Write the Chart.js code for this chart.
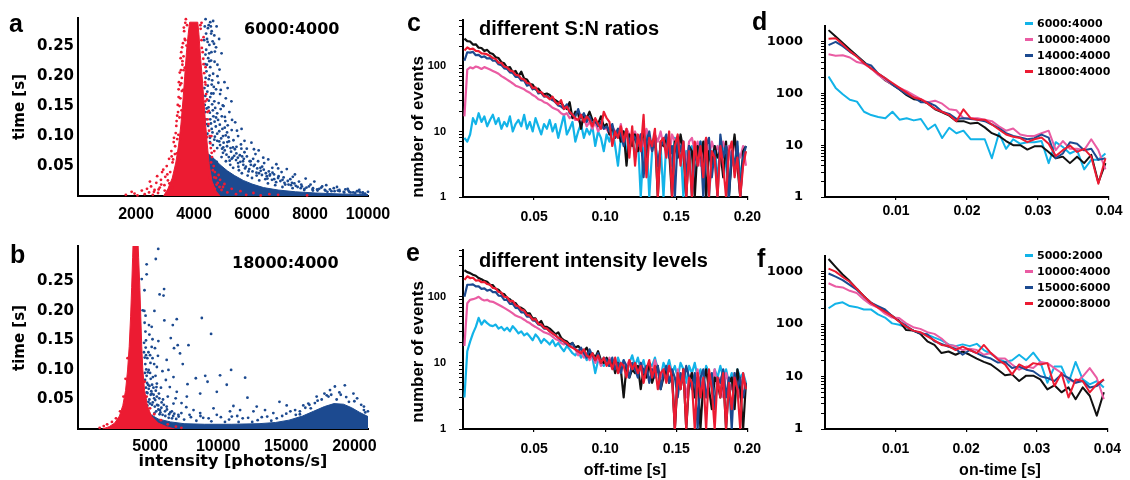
<!DOCTYPE html>
<html lang="en">
<head>
    <meta charset="UTF-8">
    <title>On/off-time statistics</title>
    <script src="https://cdn.jsdelivr.net/npm/chart.js"></script>
    <style>
        html, body { margin: 0; padding: 0; background: #fff; }
        body { position: relative; width: 1130px; height: 480px; overflow: hidden; }
        canvas { position: absolute; }
        .txt { position: absolute; white-space: nowrap; line-height: 1; color: #000; font-weight: bold; }
        .letter { font-family: "Liberation Sans", Arial, sans-serif; font-size: 25px; }
        .wide { font-family: "DejaVu Sans", sans-serif; }
        .arial { font-family: "Liberation Sans", Arial, sans-serif; }
        .vert { transform: translate(-50%, -50%) rotate(-90deg); }
        .centered { transform: translateX(-50%); }
        .legend { position: absolute; font-family: "DejaVu Sans", sans-serif; font-weight: bold; font-size: 11px; line-height: 1; }
        .legend div { display: flex; align-items: center; height: 16px; }
        .legend .mark { display: inline-block; width: 8px; height: 3px; margin-right: 4px; }
    </style>
</head>
<body>
    <canvas id="chartA" width="400" height="230" style="left:0;top:0"></canvas>
    <canvas id="chartB" width="400" height="250" style="left:0;top:230px"></canvas>
    <canvas id="chartC" width="370" height="230" style="left:400px;top:0"></canvas>
    <canvas id="chartE" width="370" height="250" style="left:400px;top:230px"></canvas>
    <canvas id="chartD" width="385" height="230" style="left:745px;top:0"></canvas>
    <canvas id="chartF" width="385" height="250" style="left:745px;top:230px"></canvas>

    <!-- panel letters -->
    <div class="txt letter" style="left:9px;top:11px">a</div>
    <div class="txt letter" style="left:10px;top:242px">b</div>
    <div class="txt letter" style="left:407px;top:10px">c</div>
    <div class="txt letter" style="left:406px;top:240px">e</div>
    <div class="txt letter" style="left:752px;top:9px">d</div>
    <div class="txt letter" style="left:757px;top:246px">f</div>

    <!-- titles inside panels -->
    <div class="txt wide" style="left:244px;top:21px;font-size:16px">6000:4000</div>
    <div class="txt wide" style="left:232px;top:255px;font-size:16px">18000:4000</div>
    <div class="txt arial" style="left:479px;top:18px;font-size:20px">different S:N ratios</div>
    <div class="txt arial" style="left:479px;top:250px;font-size:20px">different intensity levels</div>

    <!-- axis titles -->
    <div class="txt wide vert" style="left:19px;top:107px;font-size:15px">time [s]</div>
    <div class="txt wide vert" style="left:19px;top:338px;font-size:15px">time [s]</div>
    <div class="txt arial vert" style="left:417px;top:127px;font-size:17px">number of events</div>
    <div class="txt arial vert" style="left:417px;top:352px;font-size:17px">number of events</div>
    <div class="txt wide centered" style="left:233px;top:453px;font-size:16px">intensity [photons/s]</div>
    <div class="txt arial centered" style="left:625px;top:462px;font-size:16px">off-time [s]</div>
    <div class="txt arial centered" style="left:1000px;top:462px;font-size:16px">on-time [s]</div>

    <div class="legend" id="legendD" style="left:1025px;top:15px"></div>
    <div class="legend" id="legendF" style="left:1025px;top:247px"></div>

    <script>
        // ---- scatter data: intensity [photons/s] vs time [s] ----
        // dense cores are given as outlines, sparse events as single points
        const redCoreA = [[2950,0],[3100,0.012],[3250,0.03],[3370,0.055],[3470,0.085],[3550,0.12],[3620,0.16],[3680,0.2],[3740,0.24],[3800,0.27],[3850,0.29],
            [4130,0.29],[4170,0.27],[4220,0.235],[4280,0.2],[4340,0.16],[4400,0.12],[4460,0.085],[4530,0.05],[4620,0.025],[4760,0.008],[4900,0]];
        const redDotsA = [[1650,0.002],[1850,0.007],[1950,0.004],[2050,0.001],[2200,0.009],[2300,0.003],[2380,0.012],[2450,0.006],[2520,0.016],[2580,0.002],
            [2640,0.01],[2700,0.022],[2730,0.033],[2760,0.005],[2820,0.014],[2860,0.027],[2900,0.04],[2940,0.044],[2980,0.018],[3010,0.032],
            [3060,0.05],[3100,0.026],[3140,0.062],[3180,0.04],[3220,0.075],[3260,0.056],[3300,0.09],[3340,0.07],[3370,0.105],[3400,0.125],
            [3420,0.095],[3450,0.14],[3470,0.165],[3500,0.15],[3520,0.185],[3550,0.21],[3560,0.24],[3580,0.175],[3600,0.225],[3620,0.255],
            [3640,0.21],[3660,0.275],[3700,0.26],[3720,0.295],[3760,0.285],[3540,0.23],[3480,0.19],
            [3390,0.043],[3280,0.061],[3410,0.071],[3350,0.083],[3460,0.102],[3390,0.117],[3500,0.131],[3440,0.152],[3530,0.163],[3470,0.178],
            [3580,0.197],[3510,0.206],[3600,0.219],[3640,0.233],[3590,0.248],[3680,0.262],[3650,0.281],[3700,0.289],[3560,0.188],[3420,0.134],
            [3310,0.097],[3230,0.066],[3150,0.021],[3080,0.036],[2990,0.009],[2870,0.019],[2780,0.011],[2620,0.007],[2480,0.024],[3360,0.028],
            [3250,0.014],[3470,0.061],[3520,0.095],[3570,0.143],[3620,0.177],[3680,0.214],[3740,0.251],
            [4220,0.285],[4260,0.26],[4300,0.24],[4330,0.22],[4380,0.19],[4420,0.17],[4460,0.14],[4500,0.12],[4540,0.1],[4580,0.08],
            [4620,0.065],[4680,0.05],[4720,0.04],[4760,0.03],[4820,0.022],[4880,0.015],[4950,0.01],[5050,0.02],[5150,0.006],[5300,0.012],
            [5450,0.003],[5600,0.008],[5800,0.002],[6050,0.005],[6300,0.001],[6600,0.003],[6900,0.002],[7900,0.001],[4700,0.075],[4850,0.035],[4600,0.1],
            [4230,0.279],[4270,0.247],[4320,0.229],[4350,0.205],[4400,0.186],[4390,0.158],[4450,0.161],[4470,0.128],[4520,0.109],[4510,0.142],
            [4560,0.088],[4610,0.072],[4590,0.056],[4650,0.043],[4700,0.031],[4780,0.019],[4720,0.012],[4900,0.027],[5000,0.015],[4550,0.03],
            [4620,0.018],[4440,0.098],[4400,0.215],[4260,0.289],[4330,0.265]];
        const blueCoreA = [[4350,0],[4380,0.045],[4500,0.07],[4700,0.062],[4900,0.052],[5150,0.042],[5400,0.034],[5700,0.026],[6000,0.02],[6400,0.014],
            [6900,0.01],[7500,0.007],[8200,0.005],[9000,0.0035],[10000,0.0025],[10000,0]];
        const blueDotsA = [[4400,0.295],[4560,0.29],[4660,0.292],[4480,0.28],[4610,0.275],[4700,0.268],[4450,0.262],[4530,0.252],[4760,0.248],[4950,0.238],
            [4420,0.244],[4600,0.24],[4490,0.23],[4710,0.224],[4560,0.215],[4430,0.208],[4660,0.204],[4810,0.2],[4510,0.195],[5160,0.18],
            [4610,0.186],[4760,0.178],[4460,0.174],[4900,0.17],[4560,0.165],[4700,0.158],[4850,0.155],[5020,0.15],[4500,0.148],[4650,0.143],
            [4800,0.138],[4960,0.133],[5220,0.14],[4560,0.128],[4710,0.124],[4890,0.119],[5060,0.114],[4610,0.112],[5300,0.11],[4800,0.104],
            [5000,0.1],[5520,0.1],[4700,0.094],[5150,0.09],[5360,0.093],[4900,0.085],[5620,0.086],[5260,0.08],[5060,0.076],[5820,0.079],
            [5460,0.071],[6120,0.07],[5660,0.066],[5300,0.062],[5920,0.058],[6420,0.055],[5520,0.055],[6060,0.05],[6700,0.047],[5760,0.046],
            [6300,0.042],[7020,0.04],[6620,0.036],[6900,0.03],[7320,0.028],[7620,0.024],[8020,0.019],[8420,0.016],[8820,0.013],[9220,0.011],
            [9620,0.008],[6160,0.034],[6460,0.028],[7120,0.022],[7720,0.016],[8320,0.012],[9020,0.008],[9820,0.006],[4350,0.26],[4380,0.22],
            [4360,0.18],[4390,0.14],[4420,0.1],[4950,0.065],[5100,0.058],[5250,0.052],[5350,0.047],[5550,0.043],[5650,0.038],[5850,0.034],
            [6000,0.03],[6250,0.026],[6550,0.021],[6800,0.018],[7050,0.015],[7400,0.013],[7800,0.01],[8100,0.009],[8600,0.007],[9400,0.006],
            [4800,0.08],[4650,0.085],[5000,0.072],[5200,0.065],[5450,0.06],[5700,0.052],[4550,0.09],[4450,0.12],
            [4620,0.062],[4780,0.057],[4870,0.091],[5010,0.081],[5120,0.069],[5190,0.098],[5330,0.064],[5410,0.078],[5530,0.049],[5580,0.068],
            [5690,0.058],[5740,0.073],[5880,0.041],[5960,0.052],[6040,0.062],[6180,0.046],[6240,0.038],[6350,0.049],[6510,0.033],[6580,0.041],
            [6690,0.027],[6760,0.036],[6980,0.025],[7090,0.031],[7260,0.019],[7380,0.022],[7510,0.017],[7680,0.013],[7880,0.014],[8090,0.011],
            [8260,0.009],[8510,0.01],[8740,0.008],[8960,0.009],[9180,0.006],[9350,0.007],[9560,0.005],[9730,0.006],[9900,0.004],[5080,0.125],
            [4980,0.112],[4760,0.131],[4670,0.171],[4840,0.189],[4530,0.225],[4690,0.254],[4580,0.283],[4880,0.211],[5050,0.19],[5290,0.158],
            [5420,0.123],[5140,0.106],[4920,0.145],[5640,0.112],[5980,0.089],[6230,0.076],[6560,0.061],[6840,0.053],[7200,0.045],[7480,0.036],
            [7850,0.029],[8150,0.024],[8560,0.018],[8930,0.015],[9300,0.012],[9700,0.01],[10000,0.007],
            [4372,0.283],[4418,0.271],[4471,0.257],[4395,0.236],[4523,0.238],[4447,0.219],[4589,0.226],[4402,0.197],[4476,0.184],[4538,0.201],
            [4627,0.193],[4389,0.167],[4511,0.159],[4598,0.171],[4683,0.182],[4436,0.146],[4545,0.139],[4626,0.153],[4731,0.147],[4412,0.128],
            [4487,0.117],[4583,0.121],[4668,0.133],[4752,0.116],[4829,0.127],[4463,0.104],[4551,0.097],[4637,0.106],[4719,0.099],[4801,0.092],
            [4592,0.271],[4507,0.285],[4643,0.258],[4721,0.241],[4373,0.152],[4362,0.118],
            [4870,0.108],[4935,0.096],[5021,0.089],[5093,0.101],[4968,0.079],[5139,0.083],[5207,0.091],[5278,0.074],[5344,0.081],[5231,0.059],
            [5387,0.067],[5466,0.082],[5512,0.064],[5597,0.057],[5633,0.079],[5718,0.062],[5789,0.049],[5824,0.066],[5906,0.045],[5952,0.058],
            [6018,0.041],[6097,0.052],[6154,0.039],[6211,0.058],[6289,0.047],[6342,0.035],[6405,0.044],[6477,0.038],[6533,0.029],[6614,0.034],
            [6708,0.039],[6765,0.028],[6831,0.023],[6917,0.033],[7052,0.027],[7146,0.019],[7233,0.025],[7345,0.018],[7461,0.021],[7573,0.015],
            [7699,0.019],[7812,0.012],[7963,0.016],[8104,0.013],[8247,0.011],[8390,0.014],[8533,0.009],[8688,0.011],[8847,0.008],[9012,0.01],
            [9164,0.007],[9325,0.009],[9491,0.006],[9658,0.008],[9816,0.005],[5065,0.132],[5163,0.118],[4991,0.151],[5097,0.163],[4923,0.177],
            [4808,0.219],[4866,0.262],[4779,0.283],[5312,0.127],[5482,0.109],[5741,0.092],[6067,0.078],[6388,0.064],[6902,0.046],[7408,0.032]];

        const redCoreB = [[1500,0],[2000,0.004],[2400,0.01],[2750,0.022],[3000,0.04],[3200,0.065],[3350,0.1],[3470,0.14],[3570,0.19],[3650,0.24],[3720,0.29],[3760,0.32],
            [4110,0.32],[4160,0.29],[4250,0.24],[4320,0.19],[4390,0.14],[4470,0.1],[4600,0.065],[4800,0.04],[5100,0.022],[5600,0.01],[6200,0.004],[6800,0]];
        const redDotsB = [[1300,0.002],[1600,0.005],[1850,0.008],[2200,0.012],[2500,0.018],[2800,0.03],[3050,0.055],[3200,0.085],[3350,0.12],
            [4600,0.08],[4750,0.055],[5000,0.035],[5300,0.025],[5800,0.015],[6300,0.008],[6900,0.004],[7300,0.002]];
        const blueCoreB = [[4500,0],[4600,0.028],[5000,0.025],[5600,0.017],[6500,0.012],[7500,0.009],[9000,0.008],[11000,0.008],[13000,0.009],[14200,0.011],
            [15200,0.015],[16200,0.022],[17000,0.03],[17800,0.038],[18500,0.043],[19200,0.042],[19800,0.036],[20400,0.028],[21000,0.021],[21000,0]];
        const blueDotsB = [[5600,0.305],[5420,0.288],[4750,0.279],[4750,0.262],[4390,0.254],[6030,0.237],[5700,0.228],[5990,0.226],[4460,0.201],[5320,0.2],
            [6050,0.184],[6960,0.186],[8800,0.188],[5120,0.173],[6670,0.176],[9480,0.161],[5610,0.149],[6520,0.154],[7030,0.142],[7820,0.142],
            [6760,0.137],[7200,0.128],[5120,0.139],[5000,0.125],[6220,0.117],[7400,0.11],[10140,0.091],[10950,0.1],[11980,0.087],[9050,0.09],
            [8360,0.086],[6720,0.088],[6350,0.1],[5500,0.105],[9220,0.08],[7750,0.076],[9900,0.063],[10630,0.075],[12150,0.053],[14500,0.046],
            [8680,0.06],[7700,0.055],[6720,0.043],[6220,0.038],[6960,0.063],[5500,0.077],[5120,0.06],[5500,0.055],[5000,0.043],[5730,0.032],
            [11120,0.039],[10870,0.03],[11610,0.032],[12590,0.03],[13440,0.032],[15650,0.032],[15030,0.04],[18570,0.072],[19300,0.074],[19930,0.06],
            [17970,0.057],[18210,0.066],[20990,0.03],[20700,0.038],[17230,0.055],[16620,0.043],[16250,0.04],[8680,0.027],[9900,0.024],[11400,0.022],
            [8190,0.032],[9660,0.035],[12830,0.038],[14050,0.027],[4700,0.15],[4800,0.12],[4650,0.11],[4900,0.1],[4750,0.09],[5050,0.085],
            [4850,0.075],[4700,0.07],[5250,0.07],[5400,0.09],[4950,0.05],[5200,0.045],[5350,0.038],[5600,0.04],[5850,0.045],[6100,0.03],
            [5450,0.03],[5700,0.025],[6400,0.025],[6700,0.022],[7100,0.021],[7500,0.016],[7900,0.024],[8400,0.014],[8900,0.019],[9500,0.013],
            [10200,0.02],[10800,0.016],[11500,0.012],[12200,0.019],[12900,0.015],[13600,0.021],[14300,0.018],[15000,0.026],[15700,0.024],[16400,0.036],
            [17100,0.044],[17600,0.05],[18100,0.055],[18700,0.05],[19400,0.054],[20000,0.047],[20500,0.041],[17800,0.06],[19000,0.058],[4600,0.18],
            [4550,0.13],[4950,0.16],[5300,0.11],[5800,0.07],[6300,0.055],[4800,0.04],[4650,0.05],[16000,0.025],[16800,0.035],[20800,0.028],
            [6600,0.03],[7300,0.027],[8000,0.02],[8700,0.022],[9300,0.018],[10500,0.012],[11000,0.021],[11800,0.018],[12500,0.012],[13200,0.02],
            [13900,0.014],[14700,0.022],[15300,0.03],[16000,0.03],[16700,0.041],[17300,0.048],[18300,0.058],[18900,0.062],[19600,0.046],[20200,0.052],
            [20700,0.032],[4620,0.095],[4700,0.125],[4660,0.165],[4580,0.2],[4750,0.062],[4900,0.068],[5050,0.058],[5150,0.075],[5300,0.052],
            [4880,0.13],[5000,0.095],[5180,0.12],[5420,0.065],[5650,0.06],[5950,0.05],
            [4560,0.146],[4610,0.121],[4680,0.138],[4630,0.083],[4720,0.101],[4780,0.078],[4840,0.096],[4690,0.054],[4810,0.061],[4870,0.046],
            [4960,0.073],[5030,0.112],[5090,0.064],[5140,0.041],[5210,0.088],[5260,0.058],[5330,0.027],[5380,0.049],[5470,0.071],[5520,0.041],
            [5610,0.033],[5680,0.052],[5760,0.028],[5830,0.036],[5920,0.024],[6010,0.041],[6120,0.022],[6240,0.033],[6370,0.019],[6490,0.028],
            [6610,0.018],[6780,0.026],[6920,0.017],[7080,0.024],[4590,0.235],[4670,0.192],[4920,0.176],[5180,0.152],[5360,0.137],[5580,0.124],
            [5910,0.098],[6160,0.083],[6450,0.071],[6880,0.052],[7310,0.044],[7660,0.037]];

        // ---- off-time histograms (bin centres in s) ----
        const offTime = [0.001,0.003,0.005,0.007,0.009,0.011,0.013,0.015,0.017,0.019,
            0.021,0.023,0.025,0.027,0.029,0.031,0.033,0.035,0.037,0.039,
            0.041,0.043,0.045,0.047,0.049,0.051,0.053,0.055,0.057,0.059,
            0.061,0.063,0.065,0.067,0.069,0.071,0.073,0.075,0.077,0.079,
            0.081,0.083,0.085,0.087,0.089,0.091,0.093,0.095,0.097,0.099,
            0.101,0.103,0.105,0.107,0.109,0.111,0.113,0.115,0.117,0.119,
            0.121,0.123,0.125,0.127,0.129,0.131,0.133,0.135,0.137,0.139,
            0.141,0.143,0.145,0.147,0.149,0.151,0.153,0.155,0.157,0.159,
            0.161,0.163,0.165,0.167,0.169,0.171,0.173,0.175,0.177,0.179,
            0.181,0.183,0.185,0.187,0.189,0.191,0.193,0.195,0.197,0.199];

        const offSnBlack = [262,240,236,212,214,190,188,170,176,158, 152,136,132,114,110,94,96,80,84,70, 82,64,62,53,52,44,45,39,37,38,
            36,32,30,28,27,24,22,28,16,20, 19,11,18,16,20,15,14,13,17,12, 13,9,12,8,11,7,10,3,9,6, 9,5,7,10,4,8,6,9,1,7,
            6,8,5,1,7,4,9,5,1,6, 5,1,6,4,7,1,5,3,6,4, 5,2,7,1,4,9,3,1,5,6];
        const offSnRed = [172,192,180,184,170,168,156,154,150,142, 132,128,112,112,98,95,85,83,73,72, 64,62,55,54,46,47,40,40,35,34,
            31,34,28,26,30,22,24,20,18,16, 15,18,14,17,15,12,16,13,11,20, 16,14,6,10,8,12,7,11,4,12, 3,9,5,18,2,8,6,11,1,7,
            8,4,10,1,6,9,3,7,1,5, 1,7,3,6,2,8,1,5,4,1, 6,3,1,5,7,2,4,1,3,5];
        const offSnBlue = [120,162,160,164,146,148,136,140,130,132, 120,120,106,103,92,90,80,78,68,68, 60,60,50,52,44,46,38,39,34,35,
            32,30,28,25,24,22,26,19,18,17, 22,16,19,14,17,13,15,12,14,11, 12,10,13,8,11,9,6,10,7,9, 8,6,9,2,7,10,5,8,3,6,
            7,9,4,6,1,8,5,7,2,6, 1,5,3,7,1,6,8,2,5,1, 9,4,6,1,5,3,7,1,4,6];
        const offSnPink = [17,88,95,92,98,95,90,96,92,88, 84,80,76,70,66,62,58,54,50,48, 46,44,41,39,36,34,31,30,28,27,
            25,23,22,21,19,18,19,16,17,15, 15,13,16,12,14,11,14,10,12,11, 11,9,12,10,8,13,7,11,9,8, 10,7,9,6,11,8,5,9,7,10,
            6,8,4,9,7,5,8,6,3,7, 8,5,7,3,6,8,4,7,5,6, 4,7,5,6,3,8,5,4,6,3];
        const offSnCyan = [8,7,9,16,13,19,14,17,12,15, 18,13,16,11,14,12,17,10,13,15, 12,18,11,14,10,16,12,9,13,11,
            15,10,13,8,12,18,9,11,14,7, 10,13,8,11,9,12,6,10,8,5, 9,7,11,6,3,8,10,5,7,9, 4,8,1,6,9,1,5,7,3,6,
            1,7,5,3,8,4,6,1,5,3, 6,2,4,7,3,5,1,4,6,2, 4,6,3,1,5,3,6,2,4,5];

        const offIntBlack = [252,236,228,216,208,192,184,174,168,152, 150,132,128,112,110,96,92,82,80,70, 68,64,56,56,47,47,39,43,35,35,
            33,30,27,29,24,22,21,19,20,17, 18,16,15,17,13,14,12,15,11,10, 12,9,11,7,10,8,3,9,6,8, 7,9,4,8,6,10,5,7,9,4,
            6,8,5,7,1,6,4,8,1,5, 7,3,6,1,5,8,4,2,6,5, 3,7,1,5,6,2,8,4,1,5];
        const offIntRed = [180,204,192,194,176,178,166,168,156,152, 136,134,118,116,100,99,85,87,74,72, 64,62,53,52,45,46,39,38,34,33,
            30,28,26,24,23,21,20,18,17,16, 15,14,16,13,12,14,11,13,10,12, 9,11,8,12,7,10,9,6,11,8, 10,7,9,5,8,11,6,9,4,7,
            8,5,9,6,1,7,4,8,1,6, 5,1,7,3,6,1,8,4,1,6, 3,7,1,5,2,6,4,1,7,4];
        const offIntBlue = [100,152,152,154,144,144,132,134,124,128, 118,118,104,103,90,90,78,78,68,67, 58,58,50,50,44,43,38,37,33,33,
            30,28,26,24,22,21,19,18,20,16, 15,17,14,12,16,13,11,14,10,12, 11,9,12,8,10,7,11,9,6,10, 8,6,10,7,9,5,8,6,9,4,
            7,9,5,8,6,3,7,5,9,6, 4,7,1,6,8,3,5,7,2,6, 5,8,3,6,1,7,4,6,3,5];
        const offIntPink = [18,80,90,92,95,100,92,88,90,85, 84,80,76,72,68,64,60,56,52,50, 48,45,42,40,37,35,33,31,29,28,
            27,25,23,22,20,19,21,18,17,16, 13,15,12,14,11,13,10,12,9,11, 10,12,9,11,8,7,10,9,11,8, 9,7,10,8,6,9,7,11,8,6,
            8,6,9,7,1,8,5,7,3,6, 7,5,8,4,6,3,7,5,8,4, 6,3,7,5,4,7,5,3,6,4];
        const offIntCyan = [3,15,21,28,35,48,38,44,40,37, 36,38,33,35,31,34,30,36,32,28, 30,26,28,25,22,27,24,20,23,21,
            19,22,18,20,17,15,18,16,14,13, 15,12,14,11,13,12,7,11,10,9, 11,9,10,8,12,9,11,7,10,13, 9,12,8,11,7,10,9,12,8,6,
            10,8,11,7,9,6,10,8,5,9, 7,10,6,8,5,9,7,4,8,6, 9,6,8,5,7,4,8,6,7,5];

        // ---- on-time histograms ----
        const onTime = [0.0005,0.0015,0.0025,0.0035,0.0045,0.0055,0.0065,0.0075,0.0085,0.0095,
            0.0105,0.0115,0.0125,0.0135,0.0145,0.0155,0.0165,0.0175,0.0185,0.0195,
            0.0205,0.0215,0.0225,0.0235,0.0245,0.0255,0.0265,0.0275,0.0285,0.0295,
            0.0305,0.0315,0.0325,0.0335,0.0345,0.0355,0.0365,0.0375,0.0385,0.0395];

        const onSnBlack = [1650,1240,930,700,530,400,300,235,177,146, 119,92,77,74,63,49,43,37,29,29, 26,27,22,17,15,12,10,10,8.2,9.5, 9.5,7.4,5.6,6,4.5,6,4.5,6.5,1.9,4.5];
        const onSnRed = [1120,1150,870,650,505,380,300,240,195,158, 127,103,83,77,63,50,44,38,29,49, 33,31,31,25,20,16,14.5,13.7,11.4,13, 14,10.6,6.2,8,9.8,7.4,8.5,6,1.8,5.6];
        const onSnBlue = [850,980,810,630,520,380,345,240,195,147, 119,96,83,67,67,58,44,40,32,33, 32,31,29,25,21,17,15,14,13,13.6, 16,14,5.6,6.9,11.4,10.6,8,8.5,5.2,5.6];
        const onSnPink = [565,530,540,490,400,370,300,225,180,147, 127,110,92,77,67,72,63,49,47,33, 33,33,31,29,23,19,21,16,15,15, 17,19,8,12,8.5,8.5,8,13,8,3.4];
        const onSnCyan = [210,127,96,75,69,44,38,35,33,44, 31,33,30,32,20,25,13.7,21.6,17,19, 13,13,13,5.6,17,8.5,13,10.6,11.4,11.4, 12,4.5,11.4,9.2,6.9,8,3.4,5.2,5.2,6.9];

        const onIntBlack = [1740,1230,880,660,470,340,255,210,177,143, 115,77,75,65,47,40,28,30,26,30, 26,22,19,17,13.5,10.6,11,8.2,10.4,10.4, 8.8,5.7,6.8,5,6.2,3.7,6.2,4.3,1.8,5];
        const onIntRed = [1140,1000,790,640,470,340,255,205,172,143, 112,89,75,70,58,49,40,38,32,37, 32,28,40,28,21,17,11,17,14.5,18, 17,18,6.6,11.7,4,8.8,8.2,5,7.1,8.8];
        const onIntBlue = [920,800,690,560,450,340,255,220,190,143, 112,93,75,67,63,47,42,37,34,26, 32,28,24,22,18.5,19,14.5,15.5,13.5,12.6, 10.1,9.4,8.2,11,9.4,7.6,8.2,6.2,6.6,8.8];
        const onIntPink = [600,520,500,430,390,295,235,205,158,133, 130,103,87,81,70,65,53,40,38,32, 34,32,26,28,22,22,17,13.5,15.5,14.5, 19,18,14.5,11.7,8.8,7.6,10,14.5,9.4,3.7];
        const onIntCyan = [200,245,260,220,210,190,190,153,133,103, 97,87,75,67,63,55,49,41,38,41, 38,42,32,27,22,19,20.5,26,20.5,28.5, 19,7.6,15.5,15.5,7.6,19,8.8,7.1,8.2,6.2];

        // ---- tick values and legend labels ----
        const timeTicks = [0.05, 0.10, 0.15, 0.20, 0.25];
        const intensityTicksA = [2000, 4000, 6000, 8000, 10000];
        const intensityTicksB = [5000, 10000, 15000, 20000];
        const offTicks = [0.05, 0.10, 0.15, 0.20];
        const onTicks = [0.01, 0.02, 0.03, 0.04];
        const logTicks = [1,2,3,4,5,6,7,8,9,10,20,30,40,50,60,70,80,90,100,200,300,400,500,600,700,800,900,1000];
        const logLabels = [1, 10, 100, 1000];
        const snLabels = ['6000:4000', '10000:4000', '14000:4000', '18000:4000'];
        const intLabels = ['5000:2000', '10000:4000', '15000:6000', '20000:8000'];

        const RED = '#ec1b32', NAVY = '#1c4a90', PINK = '#ea5ca3', CYAN = '#12b3e8', BLACK = '#111111';

        function fixedTicks(values, top) {
            return scale => { scale.ticks = values.filter(v => v <= top).map(v => ({ value: v })); };
        }

        function font(family, size) {
            return { family: family, size: size, weight: 'bold' };
        }

        function tickGrid(len, width) {
            if (!len) return { display: false, drawTicks: false };
            return { display: true, drawOnChartArea: false, drawTicks: true, tickLength: len, color: '#000', lineWidth: width };
        }

        function baseOptions(p) {
            return {
                responsive: false,
                animation: false,
                events: [],
                layout: { padding: { top: p.padTop, right: p.padRight, left: 0, bottom: 0 } },
                plugins: { legend: { display: false }, tooltip: { enabled: false } },
                scales: {
                    x: {
                        type: 'linear', min: p.xMin, max: p.xMax,
                        afterBuildTicks: fixedTicks(p.xTicks, p.xMax),
                        afterFit: s => { s.height = p.xHeight; },
                        grid: tickGrid(p.xTickLen, 1.2),
                        border: { display: true, color: '#000', width: 2 },
                        ticks: { font: p.xFont, color: '#000', padding: p.xPad, autoSkip: false, maxRotation: 0, callback: p.xFormat }
                    },
                    y: {
                        type: p.yType, min: p.yMin, max: p.yMax,
                        afterBuildTicks: fixedTicks(p.yTicks, p.yMax),
                        afterFit: s => { s.width = p.yWidth; },
                        grid: tickGrid(p.yTickLen, 1),
                        border: { display: true, color: '#000', width: 2 },
                        ticks: { font: p.yFont, color: '#000', padding: p.yPad, autoSkip: false, callback: p.yFormat }
                    }
                }
            };
        }

        function scatterPanel(id, d, p) {
            const core = (pts, c) => ({ data: pts, showLine: true, fill: 'origin', backgroundColor: c, borderColor: c, borderWidth: 1, pointRadius: 0, tension: 0 });
            const dots = (pts, c) => ({ data: pts, showLine: false, backgroundColor: c, borderWidth: 0, pointRadius: 1.4, clip: 3 });
            new Chart(document.getElementById(id), {
                type: 'scatter',
                data: { datasets: [dots(d.redDots, RED), core(d.redCore, RED), dots(d.blueDots, NAVY), core(d.blueCore, NAVY)] },
                options: baseOptions(p)
            });
        }

        function histPanel(id, labels, series, width, p) {
            new Chart(document.getElementById(id), {
                type: 'line',
                data: {
                    labels: labels,
                    datasets: series.map(s => ({ data: s[0], borderColor: s[1], borderWidth: width, pointRadius: 0, tension: 0, borderJoinStyle: 'round' }))
                },
                options: baseOptions(p)
            });
        }

        const logFormat = v => logLabels.includes(v) ? String(v) : '';
        const fixed2 = v => v.toFixed(2);

        // a
        scatterPanel('chartA', { redCore: redCoreA, redDots: redDotsA, blueCore: blueCoreA, blueDots: blueDotsA }, {
            padTop: 18, padRight: 32, xHeight: 34, yWidth: 78,
            xMin: 0, xMax: 10000, xTicks: intensityTicksA, xFont: font('Liberation Sans', 16), xPad: 9, xTickLen: 0, xFormat: v => String(v),
            yType: 'linear', yMin: 0, yMax: 0.297, yTicks: timeTicks, yFont: font('DejaVu Sans', 15), yPad: 4, yTickLen: 0, yFormat: fixed2
        });
        // b
        scatterPanel('chartB', { redCore: redCoreB, redDots: redDotsB, blueCore: blueCoreB, blueDots: blueDotsB }, {
            padTop: 16, padRight: 32, xHeight: 51, yWidth: 78,
            xMin: -290, xMax: 21000, xTicks: intensityTicksB, xFont: font('Liberation Sans', 16), xPad: 8, xTickLen: 0, xFormat: v => String(v),
            yType: 'linear', yMin: 0, yMax: 0.31, yTicks: timeTicks, yFont: font('DejaVu Sans', 15), yPad: 4, yTickLen: 0, yFormat: fixed2
        });
        // c
        histPanel('chartC', offTime, [[offSnRed, RED], [offSnBlue, NAVY], [offSnBlack, BLACK], [offSnPink, PINK], [offSnCyan, CYAN]], 2.2, {
            padTop: 17, padRight: 22, xHeight: 33, yWidth: 63,
            xMin: 0, xMax: 0.2, xTicks: offTicks, xFont: font('Liberation Sans', 14), xPad: 9, xTickLen: 3, xFormat: fixed2,
            yType: 'logarithmic', yMin: 1, yMax: 510, yTicks: logTicks, yFont: font('Liberation Sans', 11), yPad: 13, yTickLen: 4, yFormat: logFormat
        });
        // e
        histPanel('chartE', offTime, [[offIntRed, RED], [offIntBlue, NAVY], [offIntBlack, BLACK], [offIntPink, PINK], [offIntCyan, CYAN]], 2.2, {
            padTop: 20, padRight: 22, xHeight: 51, yWidth: 63,
            xMin: 0, xMax: 0.2, xTicks: offTicks, xFont: font('Liberation Sans', 14), xPad: 9, xTickLen: 3, xFormat: fixed2,
            yType: 'logarithmic', yMin: 1, yMax: 510, yTicks: logTicks, yFont: font('Liberation Sans', 11), yPad: 13, yTickLen: 4, yFormat: logFormat
        });
        // d
        histPanel('chartD', onTime, [[onSnRed, RED], [onSnBlue, NAVY], [onSnPink, PINK], [onSnBlack, BLACK], [onSnCyan, CYAN]], 2, {
            padTop: 19, padRight: 21, xHeight: 33, yWidth: 80,
            xMin: 0, xMax: 0.04, xTicks: onTicks, xFont: font('Liberation Sans', 14), xPad: 3, xTickLen: 3, xFormat: fixed2,
            yType: 'logarithmic', yMin: 1, yMax: 2000, yTicks: logTicks, yFont: font('DejaVu Sans', 13), yPad: 18, yTickLen: 4, yFormat: logFormat
        });
        // f
        histPanel('chartF', onTime, [[onIntRed, RED], [onIntBlue, NAVY], [onIntPink, PINK], [onIntBlack, BLACK], [onIntCyan, CYAN]], 2, {
            padTop: 22, padRight: 21, xHeight: 51, yWidth: 80,
            xMin: 0, xMax: 0.04, xTicks: onTicks, xFont: font('Liberation Sans', 14), xPad: 9, xTickLen: 3, xFormat: fixed2,
            yType: 'logarithmic', yMin: 1, yMax: 2000, yTicks: logTicks, yFont: font('DejaVu Sans', 13), yPad: 18, yTickLen: 4, yFormat: logFormat
        });

        // legends
        function fillLegend(id, labels) {
            const colors = [CYAN, PINK, NAVY, RED];
            const box = document.getElementById(id);
            labels.forEach((text, i) => {
                const row = document.createElement('div');
                const mark = document.createElement('span');
                mark.className = 'mark';
                mark.style.background = colors[i];
                row.appendChild(mark);
                row.appendChild(document.createTextNode(text));
                box.appendChild(row);
            });
        }
        fillLegend('legendD', snLabels);
        fillLegend('legendF', intLabels);
    </script>
</body>
</html>
